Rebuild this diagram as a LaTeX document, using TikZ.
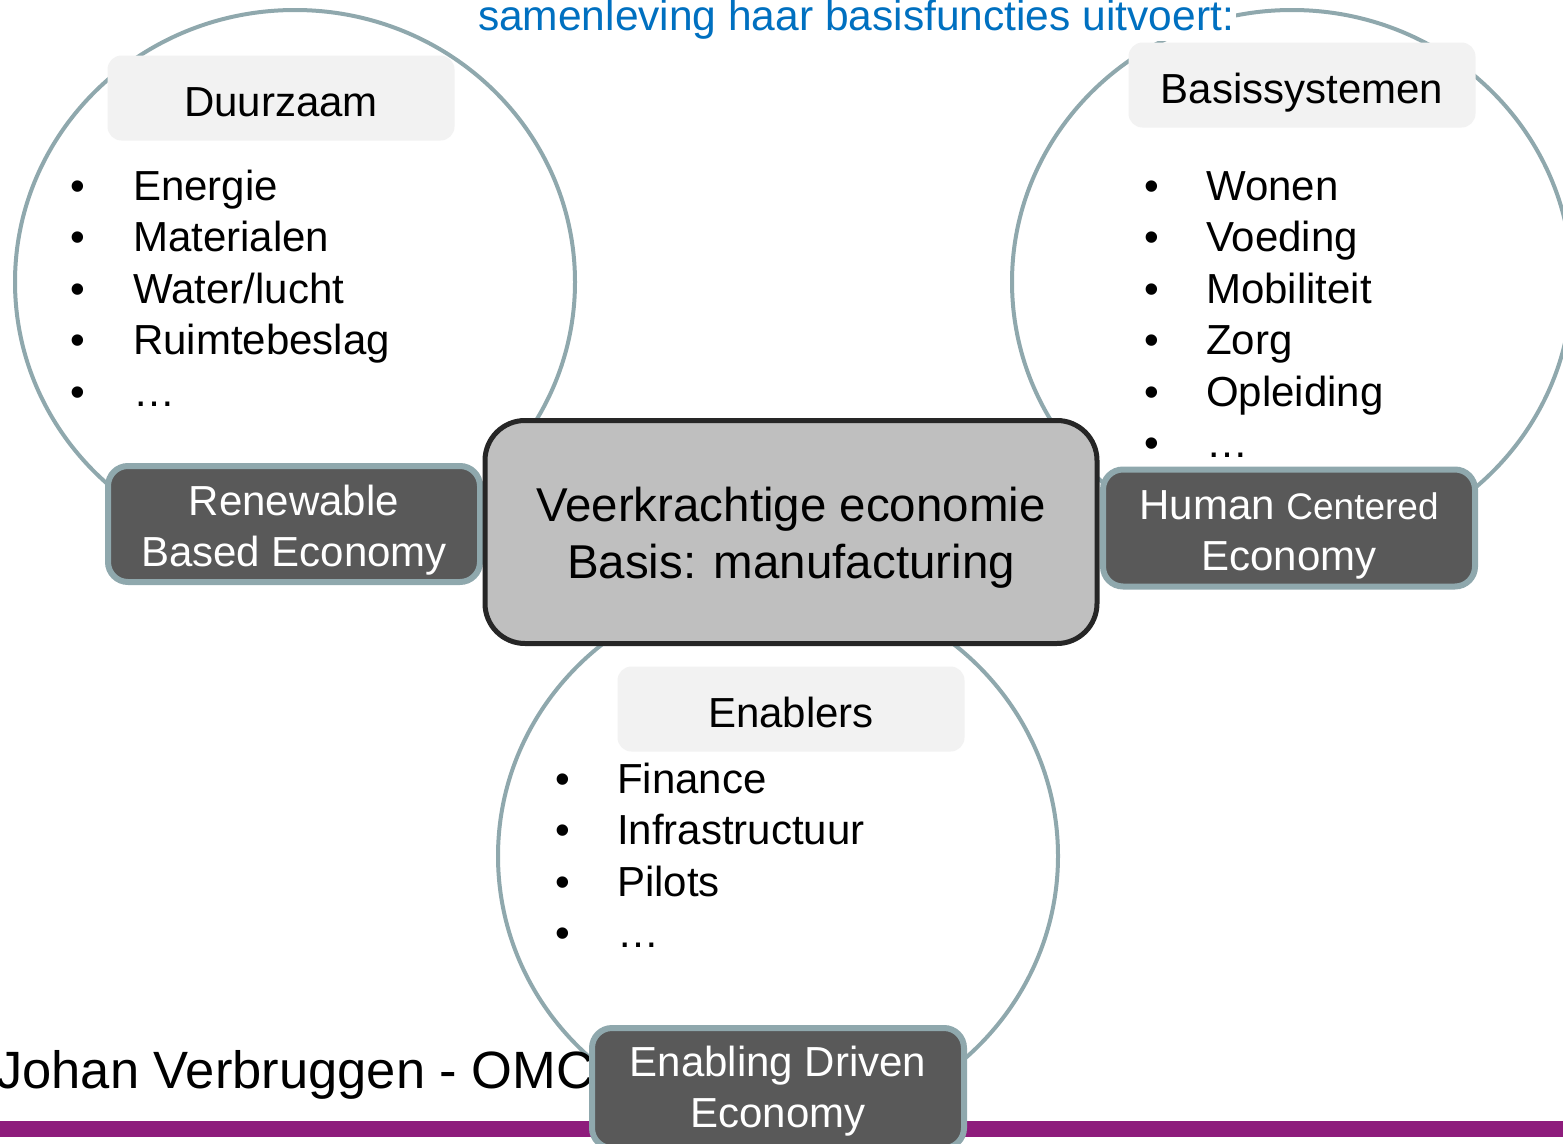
\documentclass[tikz,border=0pt]{standalone}
\usepackage{fontspec}
\setmainfont{Liberation Sans}
\usepackage{tikz}

\definecolor{ringgrijs}{RGB}{143,168,173}
\definecolor{kopgrijs}{RGB}{242,242,242}
\definecolor{pijlergrijs}{RGB}{89,89,89}
\definecolor{kerngrijs}{RGB}{191,191,191}
\definecolor{kernrand}{RGB}{38,38,38}
\definecolor{titelblauw}{RGB}{0,112,192}
\definecolor{paars}{RGB}{142,28,124}

\tikzset{
  ring/.style={draw=ringgrijs,line width=4pt,fill=white},
  kop/.style={fill=kopgrijs,rounded corners=14pt,minimum width=347pt,minimum height=85pt,inner sep=0pt,text height=36pt,text depth=0pt,font=\fontsize{42}{50}\selectfont},
  item/.style={anchor=base west,inner sep=0pt,font=\fontsize{42}{50}\selectfont},
  bol/.style={anchor=base,inner sep=0pt,font=\fontsize{42}{50}\selectfont},
  pijler/.style={draw=ringgrijs,line width=6pt,fill=pijlergrijs,rounded corners=20pt,minimum width=372pt,minimum height=116pt,inner sep=0pt},
  pijlertekst/.style={text=white,inner sep=0pt,align=center,font=\fontsize{42}{51}\selectfont},
  kern/.style={draw=kernrand,line width=5pt,fill=kerngrijs,rounded corners=40pt,minimum width=612pt,minimum height=223pt,inner sep=0pt},
  kerntekst/.style={inner sep=0pt,align=center,font=\fontsize{47.5}{57}\selectfont}
}

\begin{document}
\begin{tikzpicture}[x=1pt,y=-1pt]
\useasboundingbox (0,0) rectangle (1563,1143);

% de drie cirkels
\draw[ring] (295,282) ellipse [x radius=280pt,y radius=272pt];
\draw[ring] (1292,282) ellipse [x radius=280pt,y radius=272pt];
\draw[ring] (778,856) ellipse [x radius=280pt,y radius=272pt];

% koppen
\node[kop] (duurzaam) at (281,98) {Duurzaam};
\node[kop] (basis) at (1302,85) {Basissystemen};
\node[kop] (enablers) at (791,709) {Enablers};

% lijsten
\foreach \txt [count=\i] in {Energie,Materialen,Water/lucht,Ruimtebeslag,…}{
  \node[bol] (bolA\i) at (78,200+51.5*\i-51.5) {•};
  \node[item] (itemA\i) at (133,200+51.5*\i-51.5) {\txt};
}
\foreach \txt [count=\i] in {Wonen,Voeding,Mobiliteit,Zorg,Opleiding,…}{
  \node[bol] (bolB\i) at (1152,200+51.5*\i-51.5) {•};
  \node[item] (itemB\i) at (1206,200+51.5*\i-51.5) {\txt};
}
\foreach \txt [count=\i] in {Finance,Infrastructuur,Pilots,…}{
  \node[bol] (bolC\i) at (563,793+51.5*\i-51.5) {•};
  \node[item] (itemC\i) at (617,793+51.5*\i-51.5) {\txt};
}

% titel en voettekst
\node[anchor=base,fill=white,inner sep=2pt,text=titelblauw,font=\fontsize{42.5}{50}\selectfont] (titel) at (856,30) {samenleving haar basisfuncties uitvoert:};
\node[anchor=base west,inner sep=0pt,font=\fontsize{52.5}{60}\selectfont] (auteur) at (-4,1088) {Johan Verbruggen - OMC};
\fill[paars] (0,1121) rectangle (1563,1137);

% pijlers
\node[pijler] (renewable) at (294,524) {};
\node[pijlertekst] (renewabletekst) at (294,530) {Renewable\\Based Economy};
\node[pijler,minimum height=117pt] (human) at (1289,528) {};
\node[pijlertekst] (humantekst) at (1289,535) {Human {\fontsize{37}{51}\selectfont Centered}\\Economy};
\node[pijler,minimum height=120pt] (enabling) at (778,1088) {};
\node[pijlertekst] (enablingtekst) at (778,1091) {Enabling Driven\\Economy};

% kern
\node[kern] (kern) at (791,532) {};
\node[kerntekst] (kerntekst) at (791,538) {Veerkrachtige economie\\Basis: manufacturing};
\end{tikzpicture}
\end{document}
